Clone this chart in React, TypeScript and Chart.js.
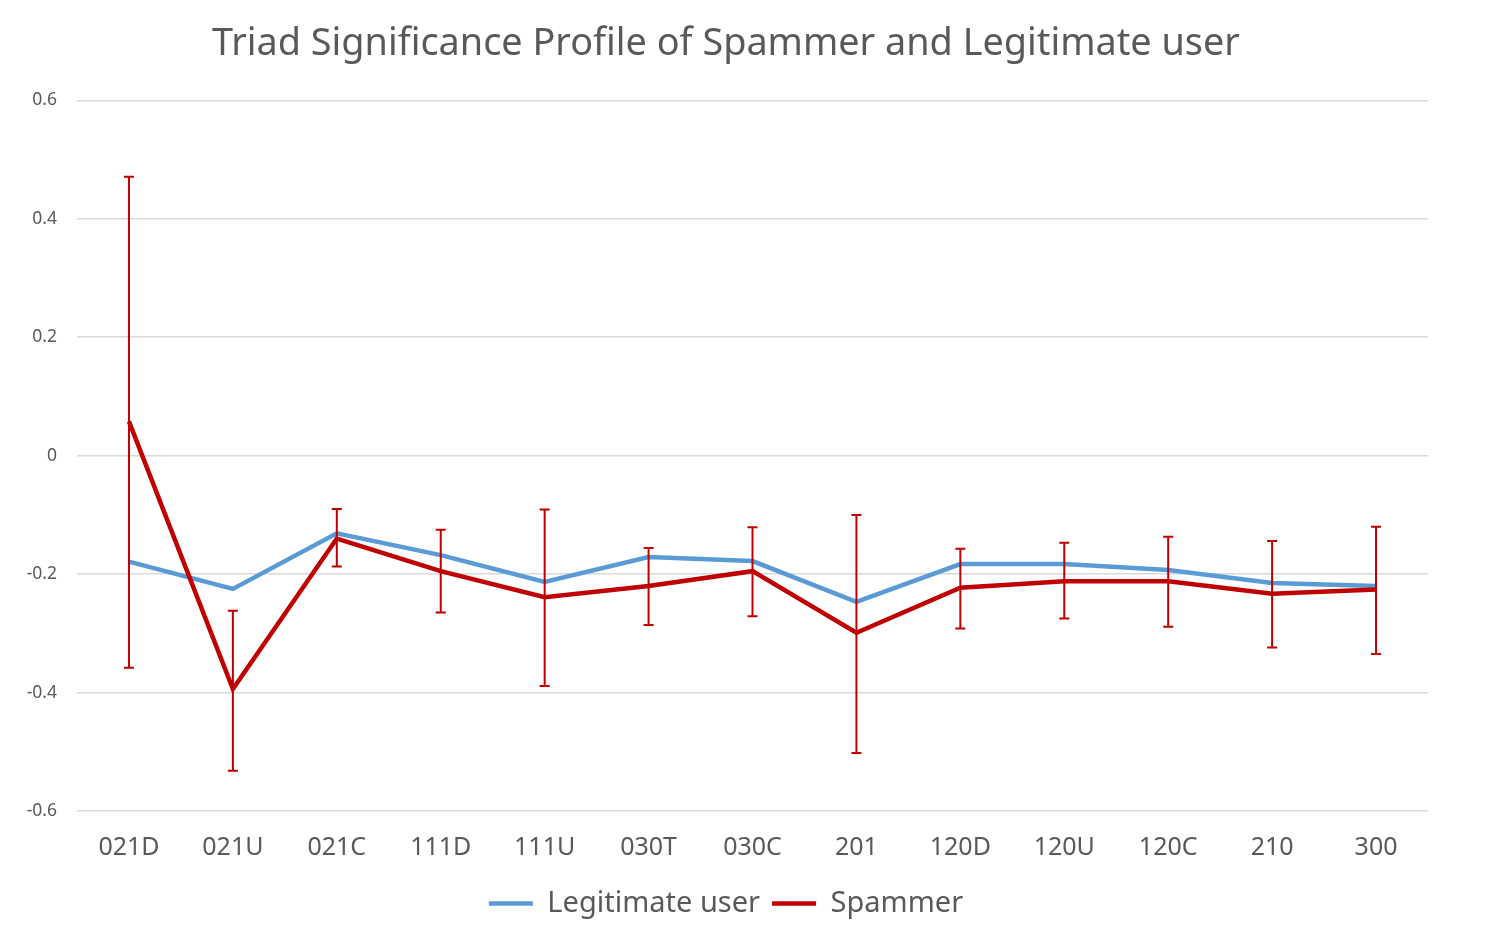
import React, { useEffect, useRef } from 'react';
import Chart from 'chart.js/auto';

const categories = ['021D', '021U', '021C', '111D', '111U', '030T', '030C', '201', '120D', '120U', '120C', '210', '300'];
const legitimate = [-0.179, -0.225, -0.131, -0.168, -0.213, -0.171, -0.178, -0.247, -0.183, -0.183, -0.193, -0.215, -0.220];
const spammer = [0.058, -0.394, -0.140, -0.195, -0.239, -0.220, -0.195, -0.299, -0.223, -0.212, -0.212, -0.233, -0.226];
const spammerHigh = [0.471, -0.262, -0.090, -0.125, -0.091, -0.156, -0.121, -0.100, -0.157, -0.147, -0.137, -0.144, -0.120];
const spammerLow = [-0.358, -0.532, -0.187, -0.265, -0.389, -0.286, -0.271, -0.502, -0.292, -0.275, -0.289, -0.324, -0.335];

const FONT = '"Noto Sans", sans-serif';

// error bars for the spammer series
const errorBars = {
  id: 'errorBars',
  afterDatasetsDraw(chart: Chart) {
    const { ctx } = chart;
    const x = chart.scales.x;
    const y = chart.scales.y;
    ctx.save();
    ctx.strokeStyle = '#c00000';
    ctx.lineWidth = 2;
    spammerHigh.forEach((hi, i) => {
      const px = x.getPixelForValue(i);
      const top = y.getPixelForValue(hi);
      const bottom = y.getPixelForValue(spammerLow[i]);
      ctx.beginPath();
      ctx.moveTo(px, top);
      ctx.lineTo(px, bottom);
      ctx.moveTo(px - 5, top);
      ctx.lineTo(px + 5, top);
      ctx.moveTo(px - 5, bottom);
      ctx.lineTo(px + 5, bottom);
      ctx.stroke();
    });
    ctx.restore();
  },
};

const App = () => {
  const chartRef = useRef<HTMLCanvasElement>(null);
  const chartInstance = useRef<Chart<'line', number[], string>>();

  useEffect(() => {
    document.body.style.margin = '0';
    if (chartInstance.current) {
      chartInstance.current.destroy();
    }
    const ctx = chartRef.current?.getContext('2d');
    if (!ctx) return;

    chartInstance.current = new Chart(ctx, {
      type: 'line',
      data: {
        labels: categories,
        datasets: [
          {
            label: 'Legitimate user',
            data: legitimate,
            borderColor: '#5b9bd5',
            backgroundColor: '#5b9bd5',
            borderWidth: 4.5,
            pointRadius: 0,
            tension: 0,
            order: 1,
          },
          {
            label: 'Spammer',
            data: spammer,
            borderColor: '#c00000',
            backgroundColor: '#c00000',
            borderWidth: 4.5,
            pointRadius: 0,
            tension: 0,
            order: 0,
          },
        ],
      },
      plugins: [errorBars],
      options: {
        animation: false,
        responsive: false,
        layout: { padding: { left: 24, right: 59, top: 8, bottom: 10 } },
        plugins: {
          title: {
            display: true,
            text: 'Triad Significance Profile of Spammer and Legitimate user',
            color: '#595959',
            font: { family: FONT, size: 37.8, weight: 'normal' },
            padding: { top: 14, bottom: 33 },
          },
          legend: {
            position: 'bottom',
            labels: {
              usePointStyle: true,
              pointStyle: 'line',
              pointStyleWidth: 44,
              color: '#595959',
              font: { family: FONT, size: 29 },
              padding: 12,
              sort: (a, b) => (a.datasetIndex ?? 0) - (b.datasetIndex ?? 0),
            },
          },
          tooltip: { enabled: false },
        },
        scales: {
          x: {
            offset: true,
            grid: { display: false },
            border: { display: false },
            ticks: { color: '#595959', font: { family: FONT, size: 25 }, padding: 14 },
          },
          y: {
            min: -0.6,
            max: 0.6,
            afterFit: (scale) => {
              scale.width = 53;
            },
            grid: { color: '#d9d9d9', lineWidth: 1.5, drawTicks: false },
            border: { display: false },
            ticks: {
              stepSize: 0.2,
              color: '#595959',
              font: { family: FONT, size: 17.5 },
              padding: 20,
            },
          },
        },
      },
    });

    return () => {
      if (chartInstance.current) {
        chartInstance.current.destroy();
      }
    };
  }, []);

  return (
    <div style={{ width: 1487, height: 938, background: '#fff' }}>
      <canvas ref={chartRef} width={1487} height={938} />
    </div>
  );
};

export default App;
